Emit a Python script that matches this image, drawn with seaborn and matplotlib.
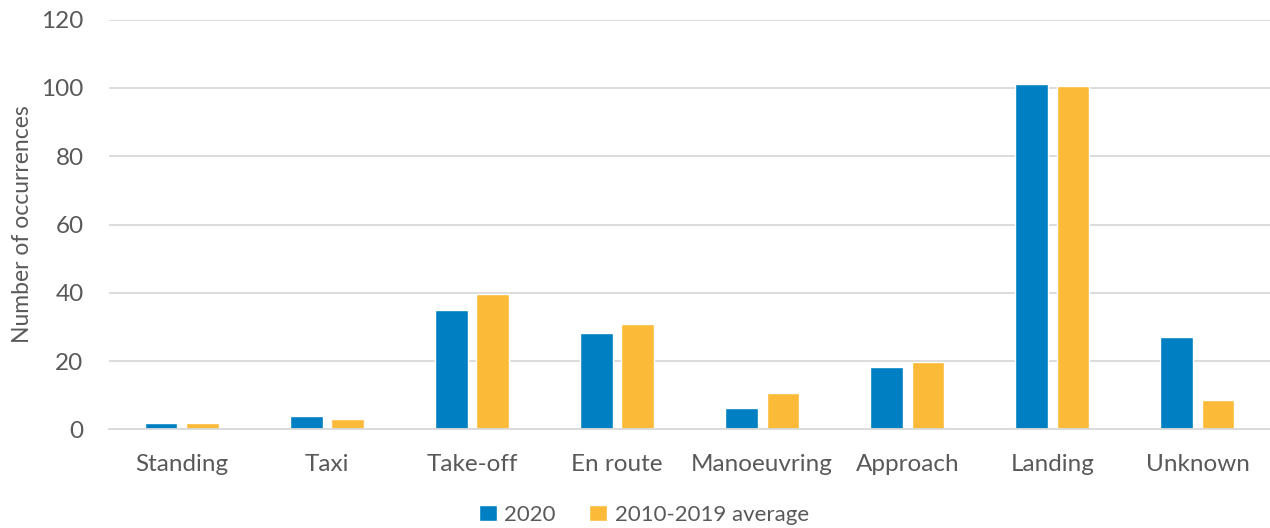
import matplotlib
matplotlib.use("Agg")
import matplotlib.pyplot as plt
import seaborn as sns
import pandas as pd

categories = ["Standing", "Taxi", "Take-off", "En route", "Manoeuvring", "Approach", "Landing", "Unknown"]
series_names = ["2020", "2010-2019 average"]
values_2020 = [2, 4, 35.1, 28.1, 6.3, 18.2, 101, 27]
values_avg = [2, 3.1, 39.6, 30.9, 10.6, 19.7, 100.5, 8.5]
y_ticks = [0, 20, 40, 60, 80, 100, 120]

colors = ["#0080C3", "#FBBA38"]
text_color = "#595959"

df = pd.DataFrame({
    "category": categories * 2,
    "series": [series_names[0]] * len(categories) + [series_names[1]] * len(categories),
    "value": values_2020 + values_avg,
})

sns.set_theme(style="white")
plt.rcParams["font.family"] = ["Lato", "DejaVu Sans"]

fig = plt.figure(figsize=(12.7, 5.28), dpi=100)
ax = fig.add_axes([0.086, 0.1866, 0.914, 0.7764])

sns.barplot(data=df, x="category", y="value", hue="series", order=categories,
            hue_order=series_names, palette=colors, width=0.57, gap=0.21,
            saturation=1, ax=ax, legend=True)

ax.set_ylim(0, 120)
ax.set_yticks(y_ticks)
ax.set_xlim(-0.5, len(categories) - 0.5)
ax.yaxis.grid(True, color="#D9D9D9", linewidth=1.3)
ax.set_axisbelow(True)
for s in ["top", "right", "left"]:
    ax.spines[s].set_visible(False)
ax.spines["bottom"].set_color("#D9D9D9")
ax.spines["bottom"].set_linewidth(1.3)

ax.tick_params(axis="both", colors=text_color, labelsize=17.5, length=0)
ax.tick_params(axis="y", pad=18.5)
ax.tick_params(axis="x", pad=18)
ax.set_xlabel("")
ax.set_ylabel("Number of occurrences", color=text_color, fontsize=16.5, labelpad=6)

handles, labels = ax.get_legend_handles_labels()
ax.get_legend().remove()
fig.legend(handles, labels, loc="center", bbox_to_anchor=(0.507, 0.025),
           ncol=2, frameon=False, fontsize=16, labelcolor=text_color,
           handlelength=0.8, handleheight=0.75, handletextpad=0.35, columnspacing=1.5)

fig.savefig("out.png", dpi=100, facecolor="white")
